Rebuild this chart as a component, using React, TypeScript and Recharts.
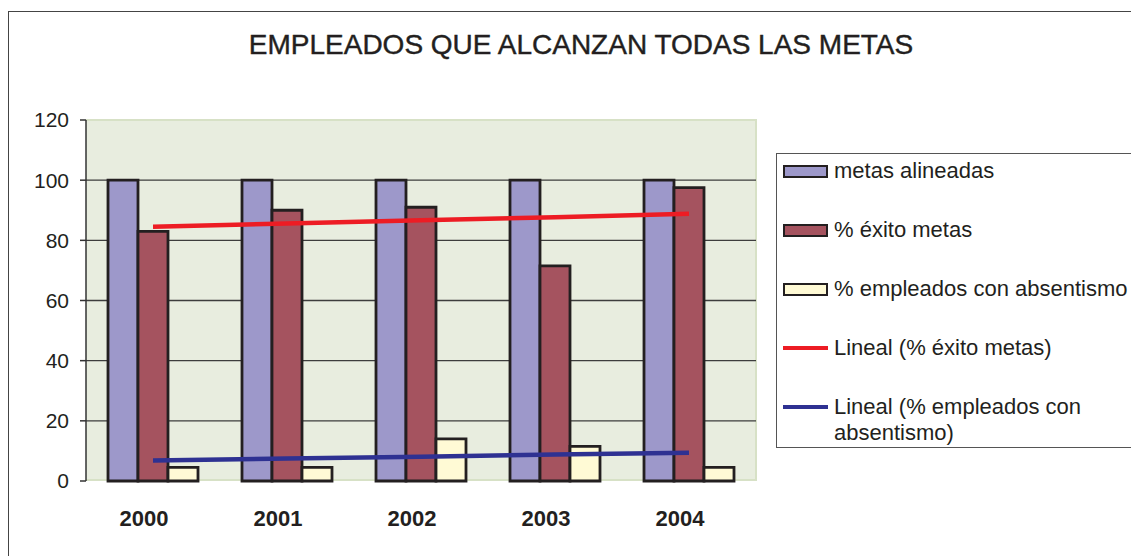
import { Bar, CartesianGrid, ComposedChart, Line, XAxis, YAxis } from "recharts";

// Employees reaching all goals, 2000–2004: three bars per year plus the two linear trend lines
// that the spreadsheet added for "% éxito metas" and "% empleados con absentismo".

const years = ["2000", "2001", "2002", "2003", "2004"];
const metasAlineadas = [100, 100, 100, 100, 100];
const exitoMetas = [83, 90, 91, 71.5, 97.5];
const empleadosAbsentismo = [4.5, 4.5, 14, 11.5, 4.5];
// trend lines at each year
const linealExito = [84.5, 85.6, 86.7, 87.7, 88.8];
const linealAbsentismo = [6.8, 7.5, 8.1, 8.8, 9.4];
const yTicks = [0, 20, 40, 60, 80, 100, 120];

const TEXT = "#231f20";
const FONT = '"Liberation Sans", Arial, Helvetica, sans-serif';

const data = years.map((year, i) => ({
  year,
  metas: metasAlineadas[i],
  exito: exitoMetas[i],
  absentismo: empleadosAbsentismo[i],
  trendExito: linealExito[i],
  trendAbsentismo: linealAbsentismo[i],
}));

interface LegendItem {
  label: string;
  color: string;
  kind: "bar" | "line";
}

const legendItems: LegendItem[] = [
  { label: "metas alineadas", color: "#9d98ca", kind: "bar" },
  { label: "% éxito metas", color: "#a5535f", kind: "bar" },
  { label: "% empleados con absentismo", color: "#fffad5", kind: "bar" },
  { label: "Lineal (% éxito metas)", color: "#ed1c24", kind: "line" },
  { label: "Lineal (% empleados con absentismo)", color: "#2e3192", kind: "line" },
];

// Excel-style legend box on the right; its right edge runs off the picture like in the source.
const SideLegend = () => (
  <div
    style={{
      position: "absolute",
      left: 768,
      top: 145,
      width: 363,
      height: 295,
      boxSizing: "border-box",
      borderTop: "1.5px solid #555",
      borderLeft: "1.5px solid #555",
      borderBottom: "1.5px solid #555",
      paddingTop: 4,
      paddingLeft: 6,
      fontFamily: FONT,
      fontSize: 22,
      lineHeight: "26px",
      color: TEXT,
      overflow: "hidden",
    }}
  >
    {legendItems.map((item) => (
      <div key={item.label} style={{ display: "flex", alignItems: "flex-start", marginBottom: 33 }}>
        <div style={{ width: 46, height: 26, display: "flex", alignItems: "center", flexShrink: 0 }}>
          {item.kind === "bar" ? (
            <div
              style={{ width: 45, height: 13, boxSizing: "border-box", background: item.color, border: `2.5px solid ${TEXT}` }}
            />
          ) : (
            <div style={{ width: 45, height: 4, background: item.color }} />
          )}
        </div>
        <span style={{ marginLeft: 5, width: 300, whiteSpace: item.kind === "bar" ? "nowrap" : "normal" }}>
          {item.label}
        </span>
      </div>
    ))}
  </div>
);

export default function App() {
  return (
    <div style={{ position: "relative", width: 1131, height: 548, fontFamily: FONT }}>
      <div
        style={{
          position: "absolute",
          left: 0,
          top: 3,
          width: 1131,
          height: 545,
          borderLeft: "1.5px solid #444",
          borderTop: "1.5px solid #444",
        }}
      />
      <div
        style={{
          position: "absolute",
          left: 0,
          top: 21,
          width: 1146,
          textAlign: "center",
          fontSize: 28,
          color: TEXT,
          WebkitTextStroke: "0.4px #231f20",
        }}
      >
        EMPLEADOS QUE ALCANZAN TODAS LAS METAS
      </div>
      {/* plot area backdrop */}
      <div
        style={{
          position: "absolute",
          left: 78,
          top: 111,
          width: 671,
          height: 362,
          boxSizing: "border-box",
          background: "#e8eddf",
          borderTop: "2px solid #d7e1c6",
          borderRight: "2px solid #d7e1c6",
          borderBottom: "2px solid #d7e1c6",
        }}
      />
      <div style={{ position: "absolute", left: 0, top: 0 }}>
        <ComposedChart
          width={1131}
          height={548}
          data={data}
          margin={{ top: 112, right: 383, bottom: 45, left: 18 }}
          barCategoryGap={22}
          barGap={0}
        >
          <CartesianGrid
            vertical={false}
            horizontalValues={[20, 40, 60, 80, 100]}
            stroke="#3d3d3d"
            strokeWidth={1.3}
          />
          <XAxis
            dataKey="year"
            height={30}
            axisLine={false}
            tickLine={false}
            tickSize={0}
            tickMargin={29}
            tick={{ fill: TEXT, fontSize: 22, fontWeight: 700, fontFamily: FONT, dx: -9 }}
          />
          <YAxis
            width={60}
            domain={[0, 120]}
            ticks={yTicks}
            interval={0}
            axisLine={{ stroke: "#333", strokeWidth: 1.5 }}
            tickLine={{ stroke: "#333", strokeWidth: 1.5 }}
            tickSize={6}
            tickMargin={11}
            tick={{ fill: TEXT, fontSize: 21, fontFamily: FONT }}
          />
          <Bar dataKey="metas" fill="#9d98ca" stroke={TEXT} strokeWidth={2.8} isAnimationActive={false} />
          <Bar dataKey="exito" fill="#a5535f" stroke={TEXT} strokeWidth={2.8} isAnimationActive={false} />
          <Bar dataKey="absentismo" fill="#fffad5" stroke={TEXT} strokeWidth={2.8} isAnimationActive={false} />
          <Line
            type="linear"
            dataKey="trendExito"
            stroke="#ed1c24"
            strokeWidth={4.5}
            dot={false}
            activeDot={false}
            isAnimationActive={false}
          />
          <Line
            type="linear"
            dataKey="trendAbsentismo"
            stroke="#2e3192"
            strokeWidth={4.5}
            dot={false}
            activeDot={false}
            isAnimationActive={false}
          />
        </ComposedChart>
      </div>
      <SideLegend />
    </div>
  );
}
